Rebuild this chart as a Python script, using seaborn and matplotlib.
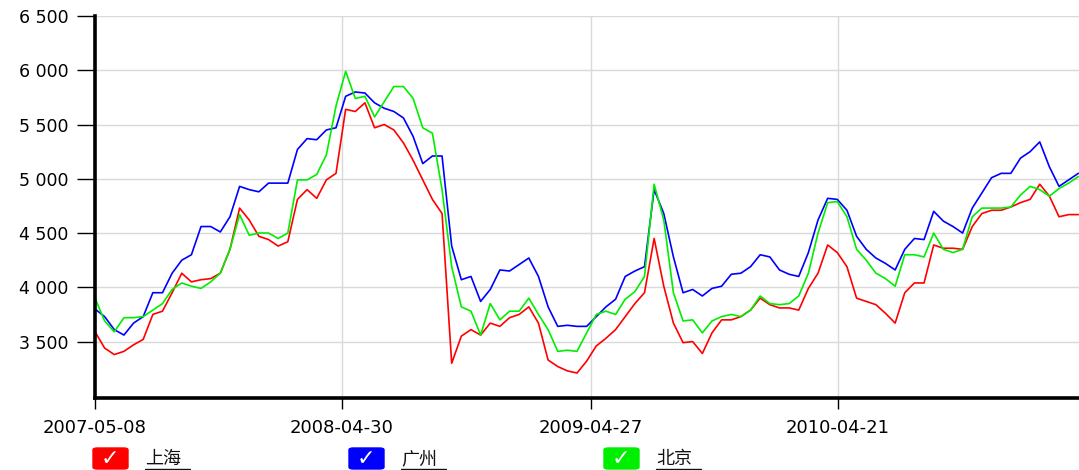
import numpy as np
import pandas as pd
import seaborn as sns
import matplotlib
matplotlib.use("Agg")
import matplotlib.pyplot as plt
from matplotlib.patches import FancyBboxPatch
from matplotlib.lines import Line2D
from matplotlib.ticker import FuncFormatter

# samples, one every 14 days from 2007-05-08
start = "2007-05-08"
step_days = 14

shanghai = [3590, 3440, 3380, 3410, 3470, 3520, 3750, 3780, 3950, 4130,
            4050, 4070, 4080, 4130, 4350, 4730, 4620, 4470, 4440, 4380,
            4420, 4810, 4900, 4820, 4990, 5050, 5640, 5620, 5700, 5470,
            5500, 5450, 5330, 5170, 4990, 4810, 4680, 3300, 3550, 3610,
            3560, 3670, 3640, 3720, 3750, 3820, 3670, 3330, 3270, 3230,
            3210, 3320, 3460, 3530, 3610, 3730, 3850, 3950, 4450, 4010,
            3670, 3490, 3500, 3390, 3580, 3700, 3700, 3730, 3790, 3900,
            3840, 3810, 3810, 3790, 3990, 4130, 4390, 4320, 4190, 3900,
            3870, 3840, 3760, 3670, 3950, 4040, 4040, 4390, 4360, 4360,
            4350, 4560, 4680, 4710, 4710, 4740, 4780, 4810, 4950, 4840,
            4650, 4670, 4670]

guangzhou = [3800, 3730, 3610, 3560, 3670, 3730, 3950, 3950, 4130, 4250,
             4300, 4560, 4560, 4510, 4650, 4930, 4900, 4880, 4960, 4960,
             4960, 5270, 5370, 5360, 5450, 5470, 5760, 5800, 5790, 5700,
             5650, 5620, 5560, 5390, 5140, 5210, 5210, 4380, 4070, 4100,
             3870, 3980, 4160, 4150, 4210, 4270, 4100, 3820, 3640, 3650,
             3640, 3640, 3730, 3820, 3890, 4100, 4150, 4190, 4900, 4680,
             4280, 3950, 3980, 3920, 3990, 4010, 4120, 4130, 4190, 4300,
             4280, 4160, 4120, 4100, 4320, 4620, 4820, 4810, 4710, 4470,
             4350, 4270, 4220, 4160, 4350, 4450, 4440, 4700, 4610, 4560,
             4500, 4730, 4870, 5010, 5050, 5050, 5190, 5250, 5340, 5110,
             4930, 4990, 5050]

beijing = [3900, 3690, 3590, 3720, 3720, 3730, 3790, 3850, 3980, 4040,
           4010, 3990, 4050, 4130, 4350, 4670, 4480, 4500, 4500, 4450,
           4500, 4990, 4990, 5040, 5220, 5670, 5990, 5740, 5760, 5570,
           5710, 5850, 5850, 5740, 5470, 5420, 4900, 4190, 3820, 3780,
           3560, 3850, 3700, 3780, 3780, 3900, 3750, 3610, 3410, 3420,
           3410, 3580, 3750, 3780, 3750, 3890, 3960, 4100, 4950, 4620,
           3950, 3690, 3700, 3580, 3690, 3730, 3750, 3730, 3790, 3920,
           3850, 3840, 3850, 3920, 4130, 4500, 4780, 4790, 4650, 4350,
           4250, 4130, 4080, 4010, 4300, 4300, 4280, 4500, 4350, 4320,
           4350, 4650, 4730, 4730, 4730, 4740, 4850, 4930, 4900, 4840,
           4910, 4960, 5020]

cities = ["上海", "广州", "北京"]
colors = ["#ff0000", "#0000ff", "#00ee00"]
tick_dates = ["2007-05-08", "2008-04-30", "2009-04-27", "2010-04-21"]
y_ticks = [3500, 4000, 4500, 5000, 5500, 6000, 6500]

dates = pd.date_range(start, periods=len(shanghai), freq=f"{step_days}D")
df = pd.concat([
    pd.DataFrame({"date": dates, "price": vals, "city": name})
    for name, vals in zip(cities, [shanghai, guangzhou, beijing])
])

sns.set_style("whitegrid")
plt.rcParams["font.family"] = ["DejaVu Sans", "Noto Sans CJK SC"]

W, H = 1079, 470
fig = plt.figure(figsize=(W / 100, H / 100), dpi=100)
ax = fig.add_axes([95 / W, 1 - 398 / H, 1 - 95 / W, (398 - 16) / H])

sns.lineplot(data=df, x="date", y="price", hue="city",
             palette=dict(zip(cities, colors)), linewidth=1.2,
             legend=False, ax=ax)

ax.set_ylim(2980, 6500)
ax.set_xlim(pd.Timestamp(start), pd.Timestamp(start) + pd.Timedelta(days=1429))
ax.set_yticks(y_ticks)
ax.yaxis.set_major_formatter(FuncFormatter(lambda v, p: f"{int(v):,}".replace(",", " ")))
ax.set_xticks(pd.to_datetime(tick_dates))
ax.set_xticklabels(tick_dates)
ax.set_xlabel("")
ax.set_ylabel("")

ax.grid(True, color="#d9d9d9", linewidth=1.0)
for s in ["top", "right"]:
    ax.spines[s].set_visible(False)
for s in ["left", "bottom"]:
    ax.spines[s].set_color("black")
    ax.spines[s].set_linewidth(2.6)
ax.tick_params(axis="y", length=13, width=1, color="black", pad=6,
               labelsize=12.5, labelcolor="black", left=True)
ax.tick_params(axis="x", length=8, width=1, color="black", pad=7,
               labelsize=13, labelcolor="black", bottom=True)

# legend: coloured check boxes with underlined names
legend_x = [93, 349, 604]
for lx, name, col in zip(legend_x, cities, colors):
    box = FancyBboxPatch((lx / W, 1 - 469 / H), 35 / W, 21 / H,
                         boxstyle="round,pad=0,rounding_size=0.004",
                         transform=fig.transFigure, facecolor=col,
                         edgecolor=col)
    fig.add_artist(box)
    fig.text((lx + 17) / W, 1 - 459 / H, "✓", color="white", fontsize=16,
             fontweight="bold", ha="center", va="center",
             family=["DejaVu Sans"])
    fig.text((lx + 52) / W, 1 - 459 / H, name, color="#111111", fontsize=13,
             ha="left", va="center", family=["Noto Sans CJK SC", "DejaVu Sans"])
    fig.add_artist(Line2D([(lx + 52) / W, (lx + 97) / W],
                          [1 - 469 / H, 1 - 469 / H],
                          transform=fig.transFigure, color="#111111",
                          linewidth=1.0))

fig.savefig("out.png", dpi=100)
